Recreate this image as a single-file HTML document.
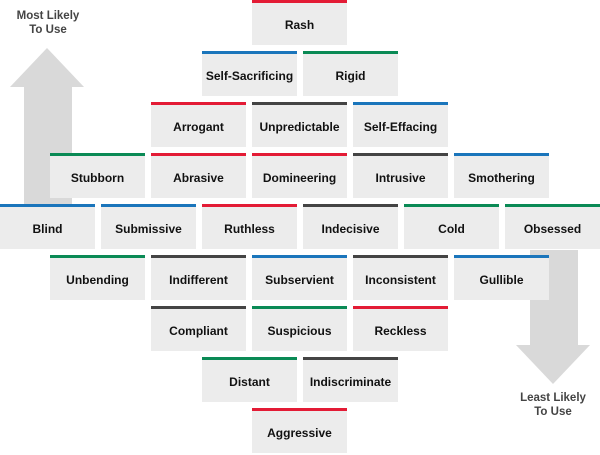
<!DOCTYPE html>
<html><head><meta charset="utf-8"><style>
html,body{margin:0;padding:0;background:#fff;}
body{width:600px;height:455px;position:relative;overflow:hidden;font-family:"Liberation Sans",sans-serif;}
.b{position:absolute;width:95px;height:42px;background:#ececec;border-top:3px solid;box-sizing:content-box;display:flex;align-items:center;justify-content:center;font-weight:bold;font-size:12px;color:#111;white-space:nowrap;padding-top:1px;height:41px;}
.r{border-color:#e31b35}.u{border-color:#1a75bb}.g{border-color:#0a8a55}.d{border-color:#444}
.lab{position:absolute;font-weight:bold;font-size:11.5px;color:#444;text-align:center;line-height:14px;}
</style></head><body>
<svg width="600" height="455" style="position:absolute;left:0;top:0">
<polygon points="47,48 84,87 72,87 72,204 24,204 24,87 10,87" fill="#d9d9d9"/>
<polygon points="530,250 578,250 578,345 590,345 553,384 516,345 530,345" fill="#d9d9d9"/>
</svg>
<div class="lab" style="left:0;width:96px;top:9px">Most Likely<br>To Use</div>
<div class="lab" style="left:505px;width:96px;top:391px">Least Likely<br>To Use</div>

<div class="b r" style="left:252px;top:0">Rash</div>

<div class="b u" style="left:202px;top:51px">Self-Sacrificing</div>
<div class="b g" style="left:303px;top:51px">Rigid</div>

<div class="b r" style="left:151px;top:102px">Arrogant</div>
<div class="b d" style="left:252px;top:102px">Unpredictable</div>
<div class="b u" style="left:353px;top:102px">Self-Effacing</div>

<div class="b g" style="left:50px;top:153px">Stubborn</div>
<div class="b r" style="left:151px;top:153px">Abrasive</div>
<div class="b r" style="left:252px;top:153px">Domineering</div>
<div class="b d" style="left:353px;top:153px">Intrusive</div>
<div class="b u" style="left:454px;top:153px">Smothering</div>

<div class="b u" style="left:0;top:204px">Blind</div>
<div class="b u" style="left:101px;top:204px">Submissive</div>
<div class="b r" style="left:202px;top:204px">Ruthless</div>
<div class="b d" style="left:303px;top:204px">Indecisive</div>
<div class="b g" style="left:404px;top:204px">Cold</div>
<div class="b g" style="left:505px;top:204px">Obsessed</div>

<div class="b g" style="left:50px;top:255px">Unbending</div>
<div class="b d" style="left:151px;top:255px">Indifferent</div>
<div class="b u" style="left:252px;top:255px">Subservient</div>
<div class="b d" style="left:353px;top:255px">Inconsistent</div>
<div class="b u" style="left:454px;top:255px">Gullible</div>

<div class="b d" style="left:151px;top:306px">Compliant</div>
<div class="b g" style="left:252px;top:306px">Suspicious</div>
<div class="b r" style="left:353px;top:306px">Reckless</div>

<div class="b g" style="left:202px;top:357px">Distant</div>
<div class="b d" style="left:303px;top:357px">Indiscriminate</div>

<div class="b r" style="left:252px;top:408px">Aggressive</div>
</body></html>
